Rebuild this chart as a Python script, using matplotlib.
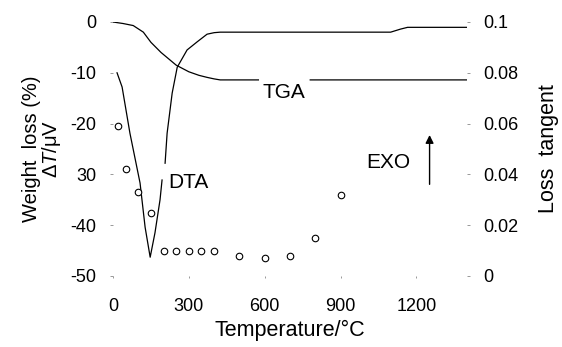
import numpy as np
import matplotlib
matplotlib.use("Agg")
import matplotlib.pyplot as plt

plt.rcParams['font.family'] = ['Liberation Sans', 'DejaVu Sans']
plt.rcParams['mathtext.fontset'] = 'custom'
plt.rcParams['mathtext.rm'] = 'Liberation Sans'
plt.rcParams['mathtext.it'] = 'Liberation Sans:italic'

# TGA (weight loss %), gap where the label sits
tga_T = [0, 40, 80, 120, 150, 190, 250, 300, 340, 372, 400, 424, 575, np.nan, 780, 1400]
tga_w = [0, -0.3, -0.7, -2.0, -4.0, -6.0, -8.5, -9.8, -10.5, -10.9, -11.2, -11.4, -11.4, np.nan, -11.4, -11.4]

# DTA (ΔT / μV), gap near the label
dta_T = [16, 36, 67, 107, 127, 147, 166, 186, 194, np.nan, 206, 214, 234, 254, 293, 333, 372, 400, 424,
         1098, 1137, 1165, 1400]
dta_v = [-10.0, -12.8, -21.9, -31.7, -40.4, -46.3, -41.5, -35.0, -31.1, np.nan, -27.8, -21.9, -14.0,
         -8.9, -5.5, -3.9, -2.4, -2.1, -2.0, -2.0, -1.4, -1.05, -1.05]

# Loss tangent points
lt_T = [20, 50, 100, 150, 200, 250, 300, 350, 400, 500, 600, 700, 800, 900]
lt_v = [0.059, 0.042, 0.033, 0.025, 0.010, 0.010, 0.010, 0.010, 0.010, 0.008, 0.007, 0.008, 0.015, 0.032]

x_ticks = [0, 300, 600, 900, 1200]
y_ticks = [0, -10, -20, -30, -40, -50]
y_labels = ['0', '-10', '-20', '30', '-40', '-50']
r_ticks = [0, 0.02, 0.04, 0.06, 0.08, 0.1]
r_labels = ['0', '0.02', '0.04', '0.06', '0.08', '0.1']

fig = plt.figure(figsize=(5.62, 3.47), dpi=100)
ax = fig.add_axes([113/562, 1-276/347, (467-113)/562, (276-22)/347])
ax2 = ax.twinx()

ax.plot(tga_T, tga_w, color='black', lw=0.9)
ax.plot(dta_T, dta_v, color='black', lw=0.9)
ax2.plot(lt_T, lt_v, linestyle='none', marker='o', ms=4.7, mfc='white', mec='black', mew=0.8)

ax.set_xlim(0, 1400)
ax.set_ylim(-50, 0)
ax2.set_ylim(0, 0.1)

for a in (ax, ax2):
    for s in a.spines.values():
        s.set_visible(False)

fs = 13
lfs = 15
ax.set_xticks(x_ticks)
ax.set_xticklabels([str(t) for t in x_ticks], fontsize=fs)
ax.set_yticks(y_ticks)
ax.set_yticklabels(y_labels, fontsize=fs)
ax2.set_yticks(r_ticks)
ax2.set_yticklabels(r_labels, fontsize=fs)
ax.tick_params(axis='x', length=1.5, width=0.6, color='#888888', pad=14)
ax.tick_params(axis='y', length=2, width=0.6, color='#888888', pad=10)
ax2.tick_params(axis='y', length=2, width=0.6, color='#888888', pad=10)

ax.set_xlabel('Temperature/°C', fontsize=15.5, labelpad=4)
ax.set_ylabel('Weight  loss (%)\nΔ$\\it{T}$/μV', fontsize=14.5, linespacing=0.95, labelpad=5)
ax2.set_ylabel('Loss  tangent', fontsize=15.5, labelpad=14)

ax.text(590, -12.0, 'TGA', fontsize=lfs, ha='left', va='top')
ax.text(218, -31.5, 'DTA', fontsize=lfs, ha='left', va='center')
ax.text(1087, -27.7, 'EXO', fontsize=lfs, ha='center', va='center')
ax.annotate('', xy=(1252, -21.7), xytext=(1252, -32.5),
            arrowprops=dict(arrowstyle='-|>', color='black', lw=1.0, mutation_scale=12))

fig.savefig('out.png', dpi=100)
